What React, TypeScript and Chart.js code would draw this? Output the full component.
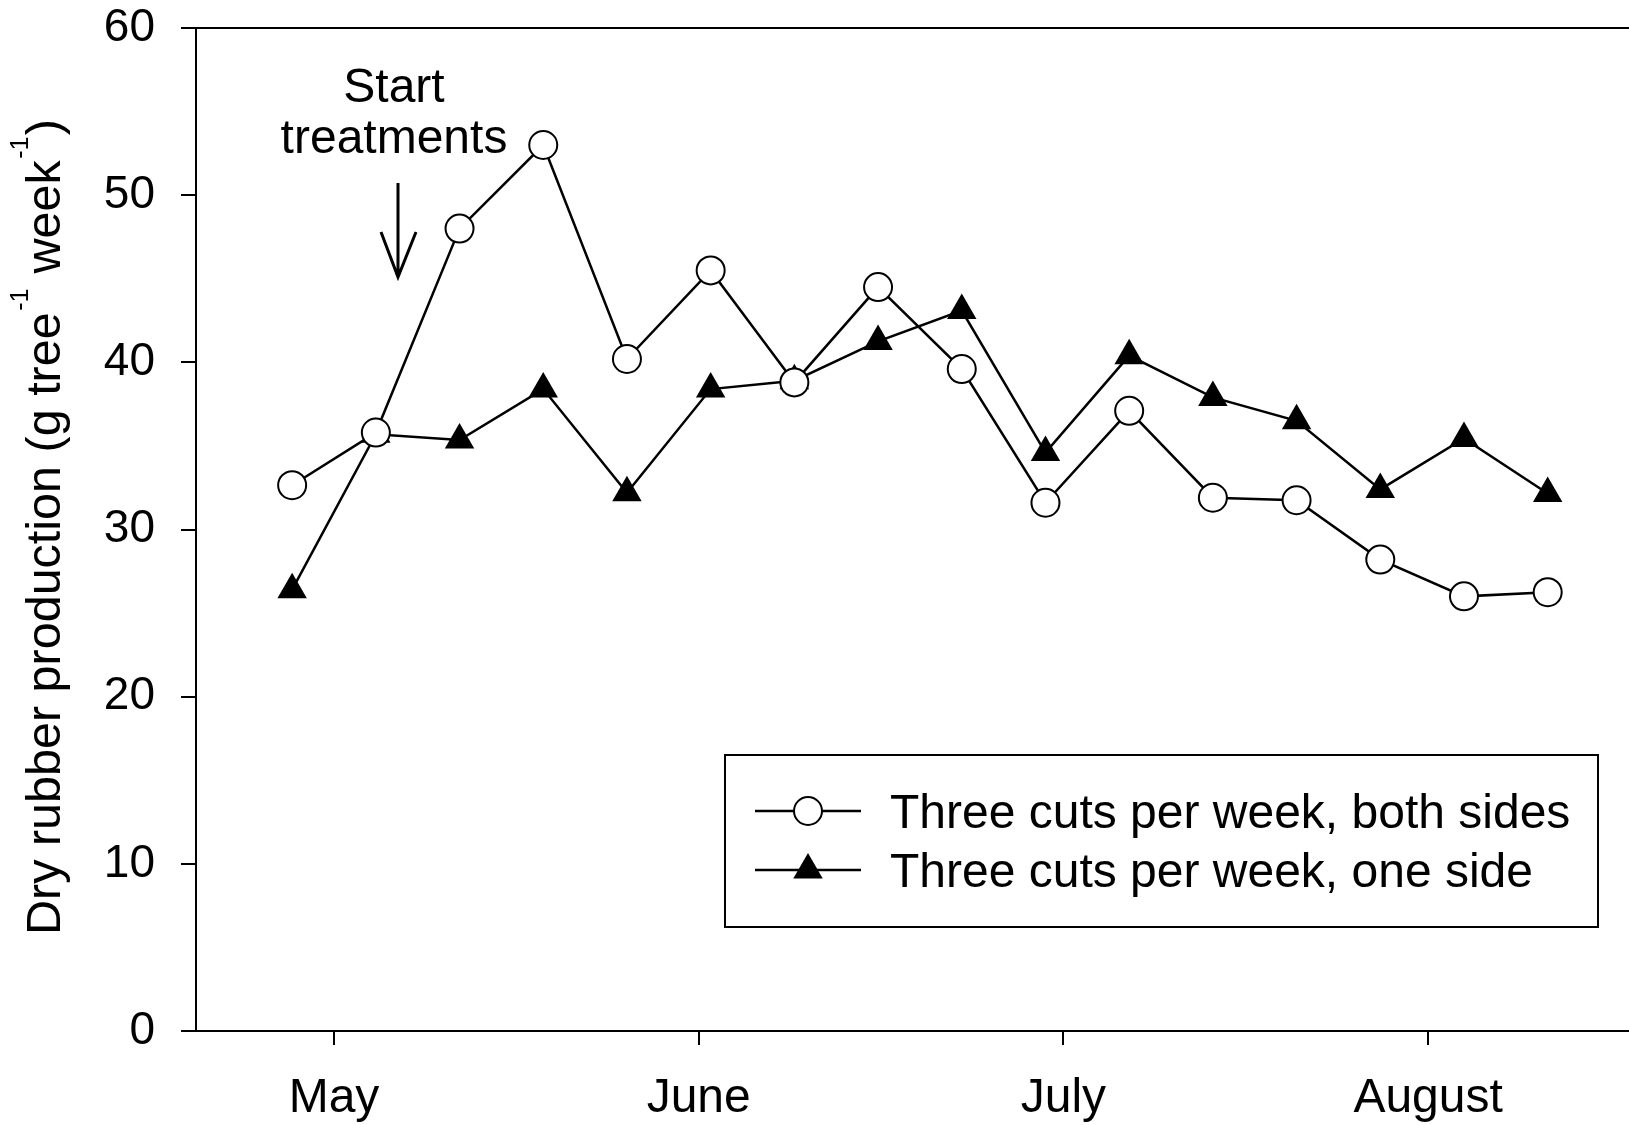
import React, { useEffect, useRef } from 'react';
import { Chart, registerables } from 'chart.js';

Chart.register(...registerables);

// Days relative to 1 May (month ticks are equally spaced on the original axis)
const weekDays = [-3.5, 3.5, 10.5, 17.5, 24.5, 31.5, 38.5, 45.5, 52.5, 59.5, 66.5, 73.5, 80.5, 87.5, 94.5, 101.5];
const bothSides = [32.65, 35.8, 48.0, 53.0, 40.2, 45.5, 38.8, 44.5, 39.6, 31.6, 37.1, 31.9, 31.75, 28.2, 26.0, 26.25];
const oneSide = [26.4, 35.7, 35.35, 38.4, 32.2, 38.4, 38.9, 41.25, 43.1, 34.6, 40.4, 37.9, 36.5, 32.4, 35.45, 32.15];
const monthTicks = [0, 30.5, 61, 91.5];
const monthLabels = ['May', 'June', 'July', 'August'];
const seriesLabels = ['Three cuts per week, both sides', 'Three cuts per week, one side'];
const annotationLines = ['Start', 'treatments'];

const FONT = 'Arial, "Liberation Sans", Helvetica, sans-serif';

const overlayPlugin = {
  id: 'overlay',
  afterDraw(chart: any) {
    const ctx = chart.ctx as CanvasRenderingContext2D;
    const area = chart.chartArea;
    ctx.save();
    // top frame line and full-width bottom axis line
    ctx.strokeStyle = '#000';
    ctx.lineWidth = 2;
    ctx.beginPath();
    ctx.moveTo(area.left - 15, area.top);
    ctx.lineTo(chart.width, area.top);
    ctx.moveTo(area.left - 15, area.bottom);
    ctx.lineTo(chart.width, area.bottom);
    ctx.stroke();
    ctx.restore();

    // y title with superscripts
    const parts: [string, boolean][] = [
      ['Dry rubber production (g tree', false],
      ['-1', true],
      [' week', false],
      ['-1', true],
      [')', false],
    ];
    const fs = 48.5;
    const ss = 25;
    ctx.save();
    let total = 0;
    for (const [t, sup] of parts) {
      ctx.font = `${sup ? ss : fs}px ${FONT}`;
      total += ctx.measureText(t).width + (sup ? 3 : 0);
    }
    ctx.translate(60, 527);
    ctx.rotate(-Math.PI / 2);
    ctx.fillStyle = '#000';
    ctx.textBaseline = 'alphabetic';
    ctx.textAlign = 'left';
    let x = -total / 2;
    for (const [t, sup] of parts) {
      ctx.font = `${sup ? ss : fs}px ${FONT}`;
      ctx.fillText(t, x + (sup ? 1.5 : 0), sup ? -32 : 0);
      x += ctx.measureText(t).width + (sup ? 3 : 0);
    }
    ctx.restore();

    // annotation
    ctx.save();
    ctx.fillStyle = '#000';
    ctx.font = `48px ${FONT}`;
    ctx.textAlign = 'center';
    ctx.textBaseline = 'alphabetic';
    ctx.fillText(annotationLines[0], 394, 102);
    ctx.fillText(annotationLines[1], 394, 153);
    ctx.strokeStyle = '#000';
    ctx.lineWidth = 3;
    ctx.beginPath();
    ctx.moveTo(398, 183);
    ctx.lineTo(398, 277);
    ctx.moveTo(381, 232);
    ctx.lineTo(398, 277);
    ctx.lineTo(416, 232);
    ctx.stroke();
    ctx.restore();

    // legend
    ctx.save();
    ctx.strokeStyle = '#000';
    ctx.lineWidth = 2;
    ctx.fillStyle = '#fff';
    ctx.fillRect(725, 755, 873, 172);
    ctx.strokeRect(725, 755, 873, 172);
    const ys = [811, 870];
    chart.data.datasets.forEach((ds: any, i: number) => {
      const y = ys[i];
      ctx.strokeStyle = '#000';
      ctx.lineWidth = 2.5;
      ctx.beginPath();
      ctx.moveTo(755, y);
      ctx.lineTo(861, y);
      ctx.stroke();
      ctx.lineWidth = 2;
      ctx.fillStyle = ds.pointBackgroundColor;
      if (ds.pointStyle === 'triangle') {
        const r = ds.pointRadius;
        ctx.beginPath();
        ctx.moveTo(808, y - r);
        ctx.lineTo(808 + r * Math.sin(2 * Math.PI / 3), y + r / 2);
        ctx.lineTo(808 - r * Math.sin(2 * Math.PI / 3), y + r / 2);
        ctx.closePath();
        ctx.fill();
      } else {
        ctx.beginPath();
        ctx.arc(808, y, ds.pointRadius, 0, Math.PI * 2);
        ctx.fill();
        ctx.stroke();
      }
      ctx.fillStyle = '#000';
      ctx.font = `48px ${FONT}`;
      ctx.textAlign = 'left';
      ctx.textBaseline = 'alphabetic';
      ctx.fillText(ds.label, 890, y + 17);
    });
    ctx.restore();
  },
};

export default function App() {
  const ref = useRef<HTMLCanvasElement | null>(null);
  useEffect(() => {
    document.body.style.margin = '0';
    const canvas = ref.current!;
    const chart = new Chart(canvas, {
      type: 'line',
      data: {
        datasets: [
          {
            label: seriesLabels[0],
            data: weekDays.map((d, i) => ({ x: d, y: bothSides[i] })),
            borderColor: '#000',
            borderWidth: 2.5,
            pointStyle: 'circle',
            pointRadius: 14,
            pointBackgroundColor: '#fff',
            pointBorderColor: '#000',
            pointBorderWidth: 2,
            tension: 0,
          },
          {
            label: seriesLabels[1],
            data: weekDays.map((d, i) => ({ x: d, y: oneSide[i] })),
            borderColor: '#000',
            borderWidth: 2.5,
            pointStyle: 'triangle',
            pointRadius: 17,
            pointBackgroundColor: '#000',
            pointBorderColor: '#000',
            pointBorderWidth: 0,
            tension: 0,
          },
        ],
      },
      options: {
        animation: false,
        responsive: false,
        devicePixelRatio: 1,
        layout: { autoPadding: false, padding: { top: 28, right: 0, left: 0, bottom: 0 } },
        plugins: {
          legend: { display: false },
          tooltip: { enabled: false },
        },
        scales: {
          x: {
            type: 'linear',
            min: -11.54,
            max: 108.3,
            afterBuildTicks: (scale: any) => {
              scale.ticks = monthTicks.map((v) => ({ value: v }));
            },
            afterFit: (scale: any) => {
              scale.height = 94;
              scale.paddingLeft = 0;
              scale.paddingRight = 0;
            },
            border: { display: true, color: '#000', width: 2 },
            grid: {
              drawOnChartArea: false,
              drawTicks: true,
              tickLength: 14,
              color: '#000',
              lineWidth: 2,
            },
            ticks: {
              color: '#000',
              font: { family: FONT, size: 48 },
              padding: 25,
              maxRotation: 0,
              autoSkip: false,
              callback: (v: any) => {
                const idx = monthTicks.indexOf(Number(v));
                return idx >= 0 ? monthLabels[idx] : '';
              },
            },
          },
          y: {
            type: 'linear',
            min: 0,
            max: 60,
            afterFit: (scale: any) => {
              scale.width = 196;
              scale.paddingTop = 0;
              scale.paddingBottom = 0;
            },
            border: { display: true, color: '#000', width: 2 },
            grid: {
              drawOnChartArea: false,
              drawTicks: true,
              tickLength: 15,
              color: '#000',
              lineWidth: 2,
            },
            ticks: {
              stepSize: 10,
              color: '#000',
              font: { family: FONT, size: 46 },
              padding: 26,
            },
          },
        },
      },
      plugins: [overlayPlugin],
    } as any);
    return () => chart.destroy();
  }, []);
  return (
    <div style={{ width: 1629, height: 1125, background: '#fff' }}>
      <canvas ref={ref} width={1629} height={1125} style={{ display: 'block', width: 1629, height: 1125 }} />
    </div>
  );
}
